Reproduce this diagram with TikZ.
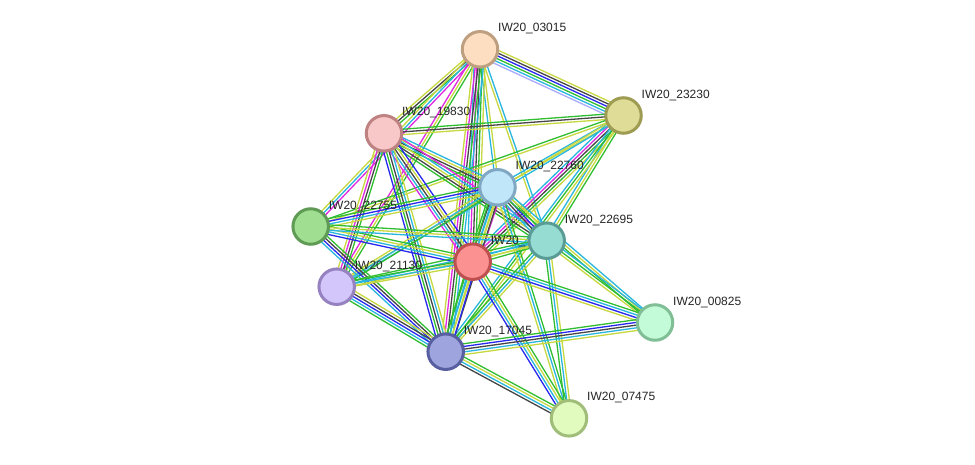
\documentclass[tikz,border=0pt]{standalone}
\usepackage{fontspec}
\setmainfont{Liberation Sans}
\usetikzlibrary{calc,backgrounds}
\definecolor{ty}{RGB}{199,216,64}
\definecolor{gn}{RGB}{48,190,48}
\definecolor{cy}{RGB}{40,182,222}
\definecolor{bl}{RGB}{40,40,240}
\definecolor{dk}{RGB}{70,70,70}
\definecolor{mg}{RGB}{224,40,224}
\definecolor{lv}{RGB}{170,170,255}
\tikzset{
  prot/.style={circle,minimum size=35.5pt,inner sep=0pt,line width=3pt},
  lbl/.style={anchor=base west,inner sep=0pt,font=\fontsize{12}{14}\selectfont,text=black!85},
  edgeline/.style={line width=1.3pt},
}
\newcommand{\sedge}[3]{%
  \foreach [count=\i] \c in {#3} {\xdef\ncount{\i}}%
  \foreach [count=\i] \c in {#3} {%
    \pgfmathsetmacro\off{(\i-(\ncount+1)/2)*2.7}%
    \draw[\c,edgeline] ($(#1.center)!\off pt!90:(#2.center)$) -- ($(#2.center)!\off pt!-90:(#1.center)$);
  }%
}
\newcommand{\prot}[6]{% name, x, y, fill, draw, label
  \node[prot,fill=#4,draw=#5] (#1) at (#2,#3) {};
  \node[lbl] (#1l) at (#2+18,#3-17.5) {#6};
}
\begin{document}
\begin{tikzpicture}[x=1pt,y=-1pt]
\useasboundingbox (0,0) rectangle (975,464);
\prot{A}{480}{49.3}{{rgb,255:red,253;green,222;blue,192}}{{rgb,255:red,190;green,160;blue,128}}{IW20\_03015}
\prot{B}{623.5}{115.5}{{rgb,255:red,222;green,220;blue,150}}{{rgb,255:red,158;green,155;blue,82}}{IW20\_23230}
\prot{C}{384}{133.3}{{rgb,255:red,248;green,200;blue,200}}{{rgb,255:red,190;green,130;blue,130}}{IW20\_19830}
\prot{E}{310.7}{226.5}{{rgb,255:red,160;green,222;blue,145}}{{rgb,255:red,95;green,155;blue,85}}{IW20\_22755}
\prot{H}{336.7}{286.7}{{rgb,255:red,210;green,198;blue,250}}{{rgb,255:red,150;green,130;blue,192}}{IW20\_21130}
\prot{J}{445.7}{351.7}{{rgb,255:red,158;green,165;blue,222}}{{rgb,255:red,88;green,95;blue,160}}{IW20\_17045}
\prot{K}{569}{418.3}{{rgb,255:red,225;green,250;blue,190}}{{rgb,255:red,160;green,190;blue,122}}{IW20\_07475}
\prot{I}{655}{322.5}{{rgb,255:red,195;green,250;blue,215}}{{rgb,255:red,128;green,190;blue,150}}{IW20\_00825}
\prot{D}{497.5}{187.3}{{rgb,255:red,192;green,230;blue,250}}{{rgb,255:red,128;green,168;blue,195}}{IW20\_22760}
\prot{G}{472.7}{261.7}{{rgb,255:red,252;green,145;blue,145}}{{rgb,255:red,190;green,80;blue,80}}{IW20\_}
\prot{F}{546.7}{240.7}{{rgb,255:red,150;green,220;blue,210}}{{rgb,255:red,90;green,155;blue,150}}{IW20\_22695}
\begin{pgfonlayer}{background}
\fill[white] (0,0) rectangle (975,464);
\sedge{A}{B}{lv,cy,gn,bl,dk,ty}
\sedge{A}{C}{ty,dk,gn}
\sedge{A}{E}{ty,cy,mg}
\sedge{A}{H}{mg,ty,gn}
\sedge{A}{D}{cy,ty}
\sedge{A}{G}{cy,mg,dk,gn,ty}
\sedge{A}{J}{ty,mg,dk,gn,cy}
\sedge{A}{F}{ty,cy}
\sedge{B}{C}{gn,dk,ty}
\sedge{B}{D}{cy,ty}
\sedge{B}{G}{cy,mg,dk,gn,ty}
\sedge{B}{F}{cy,ty,gn}
\sedge{B}{J}{cy,gn,ty}
\sedge{B}{H}{ty,cy}
\sedge{B}{E}{gn,ty}
\sedge{C}{D}{gn,dk,ty,cy}
\sedge{C}{F}{gn,dk,ty,cy,mg}
\sedge{C}{G}{mg,cy,dk,ty,bl}
\sedge{C}{J}{bl,gn,dk,cy,ty}
\sedge{C}{H}{ty,mg,dk,gn}
\sedge{D}{E}{gn,bl,cy,ty}
\sedge{D}{H}{ty,cy,gn}
\sedge{D}{G}{gn,dk,cy,ty,mg}
\sedge{D}{F}{cy,dk,bl,gn,ty}
\sedge{D}{J}{gn,cy,ty,dk}
\sedge{D}{K}{ty,cy,gn}
\sedge{D}{I}{gn,ty,cy}
\sedge{E}{G}{bl,cy,ty,gn}
\sedge{E}{F}{cy,ty,gn}
\sedge{E}{J}{cy,bl,dk,gn}
\sedge{F}{G}{cy,ty,gn}
\sedge{F}{H}{gn,cy,ty}
\sedge{F}{J}{gn,cy,ty}
\sedge{F}{K}{gn,cy,ty}
\sedge{F}{I}{ty,gn,cy}
\sedge{G}{H}{gn,cy,ty}
\sedge{G}{J}{gn,cy,ty,bl}
\sedge{G}{K}{bl,cy,ty,gn}
\sedge{G}{I}{ty,bl,cy,gn}
\sedge{H}{J}{gn,cy,bl,dk,ty}
\sedge{J}{I}{ty,cy,dk,bl,gn}
\sedge{J}{K}{dk,cy,ty,gn}
\end{pgfonlayer}
\end{tikzpicture}
\end{document}
